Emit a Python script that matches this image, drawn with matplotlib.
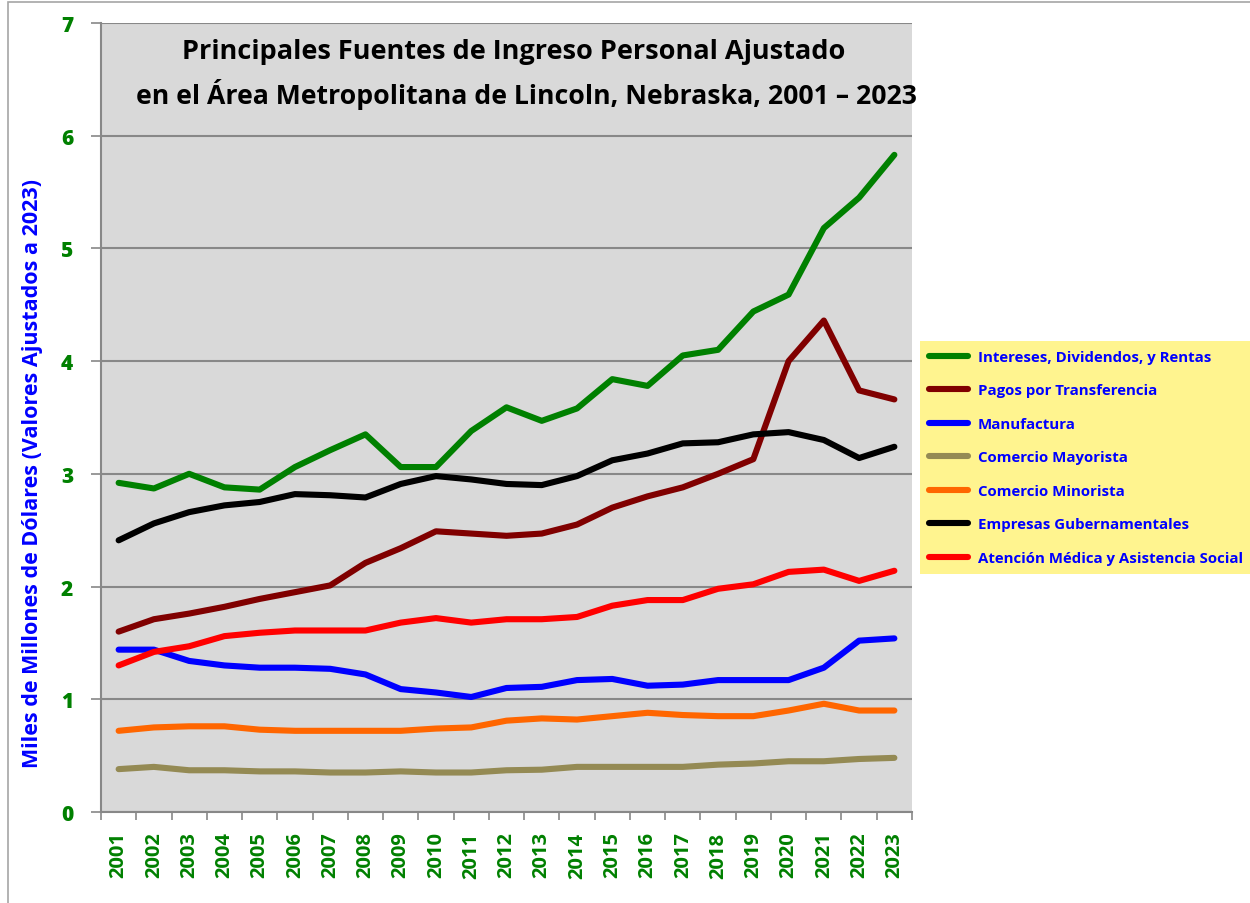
import matplotlib.pyplot as plt
import matplotlib.patches as mpatches
from matplotlib.ticker import FixedLocator

plt.rcParams["font.family"] = ["Open Sans", "DejaVu Sans"]

years = [str(y) for y in range(2001, 2024)]

intereses = [2.92, 2.87, 3.00, 2.88, 2.86, 3.06, 3.21, 3.35, 3.06, 3.06, 3.38, 3.59,
             3.47, 3.58, 3.84, 3.78, 4.05, 4.10, 4.44, 4.59, 5.18, 5.45, 5.83]
transferencia = [1.60, 1.71, 1.76, 1.82, 1.89, 1.95, 2.01, 2.21, 2.34, 2.49, 2.47, 2.45,
                 2.47, 2.55, 2.70, 2.80, 2.88, 3.00, 3.13, 4.00, 4.36, 3.74, 3.66]
manufactura = [1.44, 1.44, 1.34, 1.30, 1.28, 1.28, 1.27, 1.22, 1.09, 1.06, 1.02, 1.10,
               1.11, 1.17, 1.18, 1.12, 1.13, 1.17, 1.17, 1.17, 1.28, 1.52, 1.54]
mayorista = [0.38, 0.40, 0.37, 0.37, 0.36, 0.36, 0.35, 0.35, 0.36, 0.35, 0.35, 0.37,
             0.375, 0.40, 0.40, 0.40, 0.40, 0.42, 0.43, 0.45, 0.45, 0.47, 0.48]
minorista = [0.72, 0.75, 0.76, 0.76, 0.73, 0.72, 0.72, 0.72, 0.72, 0.74, 0.75, 0.81,
             0.83, 0.82, 0.85, 0.88, 0.86, 0.85, 0.85, 0.90, 0.96, 0.90, 0.90]
gubernamentales = [2.41, 2.56, 2.66, 2.72, 2.75, 2.82, 2.81, 2.79, 2.91, 2.98, 2.95, 2.91,
                   2.90, 2.98, 3.12, 3.18, 3.27, 3.28, 3.35, 3.37, 3.30, 3.14, 3.24]
atencion = [1.30, 1.42, 1.47, 1.56, 1.59, 1.61, 1.61, 1.61, 1.68, 1.72, 1.68, 1.71,
            1.71, 1.73, 1.83, 1.88, 1.88, 1.98, 2.02, 2.13, 2.15, 2.05, 2.14]

series = [
    ("Intereses, Dividendos, y Rentas", intereses, "#008000"),
    ("Pagos por Transferencia", transferencia, "#800000"),
    ("Manufactura", manufactura, "#0000FF"),
    ("Comercio Mayorista", mayorista, "#948A54"),
    ("Comercio Minorista", minorista, "#FF6600"),
    ("Empresas Gubernamentales", gubernamentales, "#000000"),
    ("Atención Médica y Asistencia Social", atencion, "#FF0000"),
]

GREEN_TXT = "#008000"
BLUE_TXT = "#0000FF"

fig = plt.figure(figsize=(12.5, 9.04), dpi=100)
ax = fig.add_axes([0.0808, 0.1007, 0.6488, 0.8728])
ax.set_facecolor("#D9D9D9")

x = list(range(len(years)))
for name, vals, col in series:
    ax.plot(x, vals, color=col, lw=4.4, solid_capstyle="round",
            solid_joinstyle="round", label=name, zorder=3)

ax.set_xlim(-0.5, len(years) - 0.5)
ax.set_ylim(0, 7)
ax.set_yticks(range(0, 8))
ax.set_xticks(x)
ax.set_xticklabels(years, rotation=90, fontsize=14.5, fontweight="bold",
                   color=GREEN_TXT)
ax.xaxis.set_minor_locator(FixedLocator([i - 0.5 for i in range(len(years) + 1)]))
ax.tick_params(axis="x", which="major", length=0, pad=14)
ax.tick_params(axis="x", which="minor", length=6, color="#888888", width=1.2)
ax.tick_params(axis="y", length=7, color="#888888", width=1.2, pad=13)
for lbl in ax.get_yticklabels():
    lbl.set_fontsize(15)
    lbl.set_fontweight("heavy")
    lbl.set_color(GREEN_TXT)

ax.grid(axis="y", color="#888888", lw=1.5, zorder=1)
ax.set_axisbelow(True)
for s in ["top", "right"]:
    ax.spines[s].set_visible(False)
for s in ["left", "bottom"]:
    ax.spines[s].set_color("#888888")
    ax.spines[s].set_linewidth(1.5)

# título del eje y, algo más abajo que el centro del área
fig.text(33 / 1250, 1 - 474 / 904,
         "Miles de Millones de Dólares (Valores Ajustados a 2023)",
         rotation=90, ha="center", va="center", fontsize=15.5,
         fontweight="bold", color=BLUE_TXT)

fig.text(0.411, 1 - 52 / 904, "Principales Fuentes de Ingreso Personal Ajustado",
         ha="center", va="center", fontsize=19.5, fontweight="bold")
fig.text(0.4215, 1 - 95 / 904, "en el Área Metropolitana de Lincoln, Nebraska, 2001 – 2023",
         ha="center", va="center", fontsize=19.2, fontweight="bold")

leg = fig.legend(loc="upper left", bbox_to_anchor=(0.736, 1 - 342 / 904),
                 bbox_transform=fig.transFigure, frameon=True, fancybox=False,
                 facecolor="#FFF48F", edgecolor="none", framealpha=1,
                 prop={"weight": "bold", "size": 10.8}, handlelength=2.6,
                 labelspacing=1.3, borderpad=0.6, handletextpad=0.65,
                 borderaxespad=0)
for t in leg.get_texts():
    t.set_color(BLUE_TXT)

# marco exterior
fig.patches.append(mpatches.Rectangle((8 / 1250, -0.01), 1.0, 1 - 3 / 904 + 0.01,
                                      transform=fig.transFigure, fill=False,
                                      edgecolor="#A6A6A6", lw=1.2))

fig.savefig("out.png", dpi=100)
